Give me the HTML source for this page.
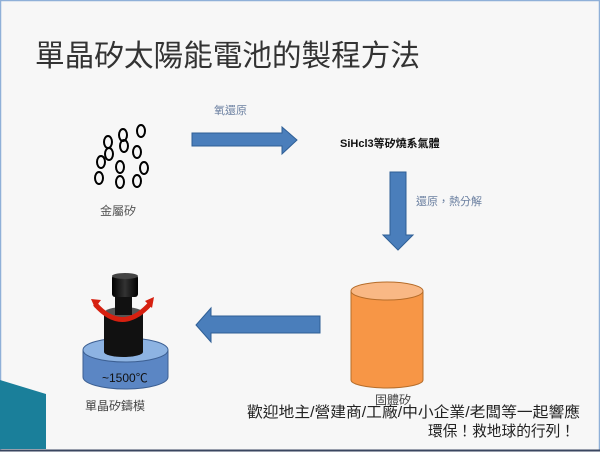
<!DOCTYPE html>
<html><head><meta charset="utf-8"><style>
html,body{margin:0;padding:0;}
body{width:600px;height:452px;overflow:hidden;background:#f7f7f7;position:relative;font-family:"Liberation Sans","Noto Sans CJK TC",sans-serif;}
</style></head><body>
<svg width="600" height="452" viewBox="0 0 600 452" xmlns="http://www.w3.org/2000/svg" style="position:absolute;left:0;top:0">
<defs>
<linearGradient id="cap" x1="0" x2="1"><stop offset="0" stop-color="#000"/><stop offset=".5" stop-color="#333"/><stop offset="1" stop-color="#000"/></linearGradient>
</defs>
<rect x="0.5" y="0.5" width="599" height="450" fill="#f7f7f7" stroke="#8fb0d8" stroke-width="1.5"/>
<line x1="0" y1="450.5" x2="600" y2="450.5" stroke="#3a4660" stroke-width="2"/>
<polygon points="0,380 46,394 46,449 0,449" fill="#1a7f9a"/>
<text x="35" y="66" font-size="30" fill="#333" textLength="385" lengthAdjust="spacingAndGlyphs">單晶矽太陽能電池的製程方法</text>
<g fill="none" stroke="#000" stroke-width="2">
<ellipse cx="108" cy="142" rx="4" ry="6"/><ellipse cx="123" cy="135" rx="4" ry="6"/><ellipse cx="141" cy="131" rx="4" ry="6"/>
<ellipse cx="124" cy="146" rx="4" ry="6"/><ellipse cx="137" cy="152" rx="4" ry="6"/><ellipse cx="109" cy="154" rx="4" ry="6"/>
<ellipse cx="101" cy="162" rx="4" ry="6"/><ellipse cx="120" cy="167" rx="4" ry="6"/><ellipse cx="144" cy="168" rx="4" ry="6"/>
<ellipse cx="99" cy="178" rx="4" ry="6"/><ellipse cx="120" cy="182" rx="4" ry="6"/><ellipse cx="137" cy="181" rx="4" ry="6"/>
</g>
<text x="100" y="215" font-size="12" fill="#555">金屬矽</text>
<polygon points="192,133 282,133 282,127 297,140 282,154 282,146 192,146" fill="#4a7ebb" stroke="#2f5f96" stroke-width="1"/>
<text x="214" y="114" font-size="11" fill="#6a7fa0">氧還原</text>
<text x="340" y="147" font-size="11" font-weight="bold" fill="#111">SiHcl3等矽燒系氣體</text>
<polygon points="390,172 406,172 406,235 413,235 398,250 383,235 390,235" fill="#4a7ebb" stroke="#2f5f96" stroke-width="1"/>
<text x="416" y="205" font-size="11" fill="#6a7fa0">還原，熱分解</text>
<polygon points="320,316 211,316 211,308 196,325 211,342 211,333 320,333" fill="#4a7ebb" stroke="#2f5f96" stroke-width="1"/>
<path d="M351,291 L351,380 A36,8 0 0 0 423,380 L423,291 Z" fill="#f79646" stroke="#b66d2a"/>
<ellipse cx="387" cy="291" rx="36" ry="9" fill="#f9b885" stroke="#b66d2a"/>
<text x="375" y="404" font-size="12" fill="#444">固體矽</text>
<path d="M83,350 L83,377 A42.5,12 0 0 0 168,377 L168,350 Z" fill="#5b86c4" stroke="#3c5f92"/>
<ellipse cx="125.5" cy="350" rx="42.5" ry="12" fill="#8db3e2" stroke="#3c5f92"/>
<text x="102" y="382" font-size="12" fill="#111">~1500℃</text>
<path d="M104,312 L104,352 A19.5,5 0 0 0 143,352 L143,312 Z" fill="#111"/>
<ellipse cx="123.5" cy="313" rx="19.5" ry="6" fill="#555"/>
<rect x="115" y="293" width="17" height="22" fill="#111"/>
<rect x="112" y="275" width="26" height="22" rx="3" fill="url(#cap)"/>
<ellipse cx="125" cy="276" rx="13" ry="3" fill="#444"/>
<path d="M95,304 Q122,335 150,304" fill="none" stroke="#d62010" stroke-width="5"/>
<polygon points="91,299 101,300 95,308" fill="#d62010"/>
<polygon points="154,297 145,301 152,308" fill="#d62010"/>
<text x="85" y="410" font-size="12" fill="#444">單晶矽鑄模</text>
<text x="247" y="417" font-size="15" fill="#222" textLength="333" lengthAdjust="spacingAndGlyphs">歡迎地主/營建商/工廠/中小企業/老闆等一起響應</text>
<text x="428" y="436" font-size="15" fill="#222" textLength="147" lengthAdjust="spacingAndGlyphs">環保！救地球的行列！</text>
</svg>
</body></html>
